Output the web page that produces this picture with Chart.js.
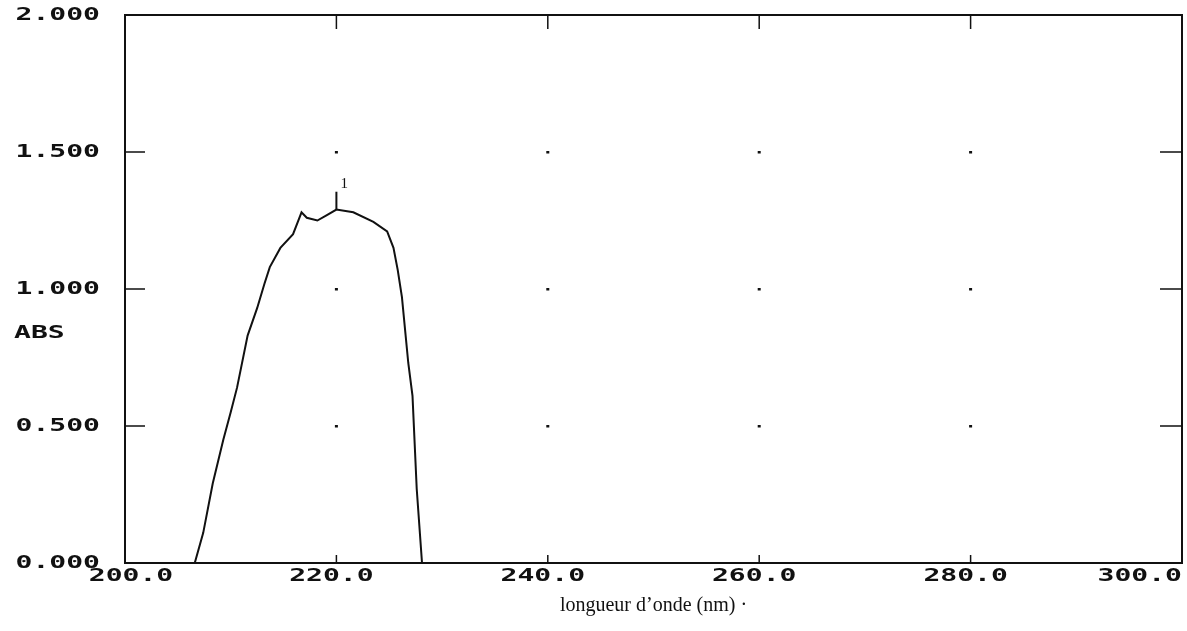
<!DOCTYPE html>
<html>
<head>
<meta charset="utf-8">
<script src="https://cdn.jsdelivr.net/npm/chart.js@4"></script>
<style>
  html, body { margin: 0; padding: 0; background: #fff; }
  #wrap { width: 1187px; height: 631px; }
</style>
</head>
<body>
<div id="wrap"><canvas id="spectrum"></canvas></div>
<script>
// spectrum trace
const wavelengths = [206.6, 207.4, 208.3, 209.3, 210.0, 210.6, 211.6, 212.5, 213.2, 213.7, 214.7, 215.9, 216.7, 217.2, 218.2, 219.1, 220.0, 221.6, 223.5, 224.8, 225.4, 225.8, 226.2, 226.5, 226.8, 227.2, 227.6, 228.1];
const absorbance  = [0.00, 0.11, 0.29, 0.45, 0.55, 0.64, 0.83, 0.93, 1.02, 1.08, 1.15, 1.20, 1.28, 1.26, 1.25, 1.27, 1.29, 1.28, 1.245, 1.21, 1.15, 1.07, 0.97, 0.85, 0.73, 0.61, 0.27, 0.00];

// peak marker "1"
const peakX = [220, 220];
const peakY = [1.29, 1.355];
const peakLabel = '1';

const xTicks = [200, 220, 240, 260, 280, 300];
const yTicks = [0, 0.5, 1.0, 1.5, 2.0];
const yLabel = 'ABS';
const xTitle = 'longueur d\u2019onde (nm) \u00b7';

const INK = '#111';
const LABEL_FONT = 'bold 17px "DejaVu Sans Mono"';

function drawWide(ctx, text, x, y, align) {
    const sx = 1.65;
    const w = ctx.measureText(text).width * sx;
    let left = x;
    if (align === 'center') left = x - w / 2;
    else if (align === 'right') left = x - w;
    ctx.save();
    ctx.translate(left, y);
    ctx.scale(sx, 1);
    ctx.textAlign = 'left';
    ctx.textBaseline = 'middle';
    ctx.fillText(text, 0, 0);
    ctx.restore();
}

const plotterFrame = {
    id: 'plotterFrame',
    afterDatasetsDraw(chart) {
        const { ctx, chartArea: a, scales: { x, y } } = chart;
        ctx.save();
        ctx.strokeStyle = INK;
        ctx.fillStyle = INK;
        ctx.lineWidth = 2;
        ctx.strokeRect(a.left, a.top, a.right - a.left, a.bottom - a.top);

        ctx.lineWidth = 1.5;
        ctx.beginPath();
        yTicks.slice(1, -1).forEach(v => {
            const py = y.getPixelForValue(v);
            ctx.moveTo(a.left, py); ctx.lineTo(a.left + 20, py);
            ctx.moveTo(a.right, py); ctx.lineTo(a.right - 22, py);
        });
        xTicks.slice(1, -1).forEach(v => {
            const px = x.getPixelForValue(v);
            ctx.moveTo(px, a.top); ctx.lineTo(px, a.top + 14);
            ctx.moveTo(px, a.bottom); ctx.lineTo(px, a.bottom - 8);
        });
        ctx.stroke();

        // grid dots
        xTicks.slice(1, -1).forEach(xv => {
            yTicks.slice(1, -1).forEach(yv => {
                ctx.fillRect(x.getPixelForValue(xv) - 1.5, y.getPixelForValue(yv) - 1, 3, 2.5);
            });
        });

        ctx.font = LABEL_FONT;
        yTicks.forEach(v => {
            drawWide(ctx, v.toFixed(3), 100, y.getPixelForValue(v) + 1, 'right');
        });
        drawWide(ctx, yLabel, 14, y.getPixelForValue(1.0) + 45, 'left');

        xTicks.forEach((v, i) => {
            const px = x.getPixelForValue(v);
            if (i === xTicks.length - 1) drawWide(ctx, v.toFixed(1), a.right, a.bottom + 14, 'right');
            else drawWide(ctx, v.toFixed(1), px - (i === 0 ? -6 : 5), a.bottom + 14, 'center');
        });

        ctx.font = '15px "Liberation Serif"';
        ctx.textAlign = 'left';
        ctx.textBaseline = 'alphabetic';
        ctx.fillText(peakLabel, x.getPixelForValue(peakX[1]) + 4, y.getPixelForValue(peakY[1]) - 4);
        ctx.restore();
    }
};

new Chart(document.getElementById('spectrum'), {
    type: 'line',
    data: {
        datasets: [
            {
                data: wavelengths.map((w, i) => ({ x: w, y: absorbance[i] })),
                borderColor: INK,
                borderWidth: 2,
                pointRadius: 0,
                tension: 0,
                fill: false
            },
            {
                data: peakX.map((w, i) => ({ x: w, y: peakY[i] })),
                borderColor: INK,
                borderWidth: 2,
                pointRadius: 0,
                fill: false
            }
        ]
    },
    options: {
        responsive: true,
        maintainAspectRatio: false,
        animation: false,
        layout: { padding: { left: 117, right: 5, top: 15, bottom: 9 } },
        plugins: { legend: { display: false }, tooltip: { enabled: false } },
        scales: {
            x: {
                type: 'linear',
                min: 200, max: 300,
                grid: { display: false },
                border: { display: false },
                ticks: { display: false },
                title: {
                    display: true,
                    text: xTitle,
                    color: INK,
                    font: { family: '"Liberation Serif"', size: 20 },
                    padding: { top: 23, bottom: 4 }
                }
            },
            y: {
                min: 0, max: 2,
                grid: { display: false },
                border: { display: false },
                ticks: { display: false }
            }
        }
    },
    plugins: [plotterFrame]
});
</script>
</body>
</html>
